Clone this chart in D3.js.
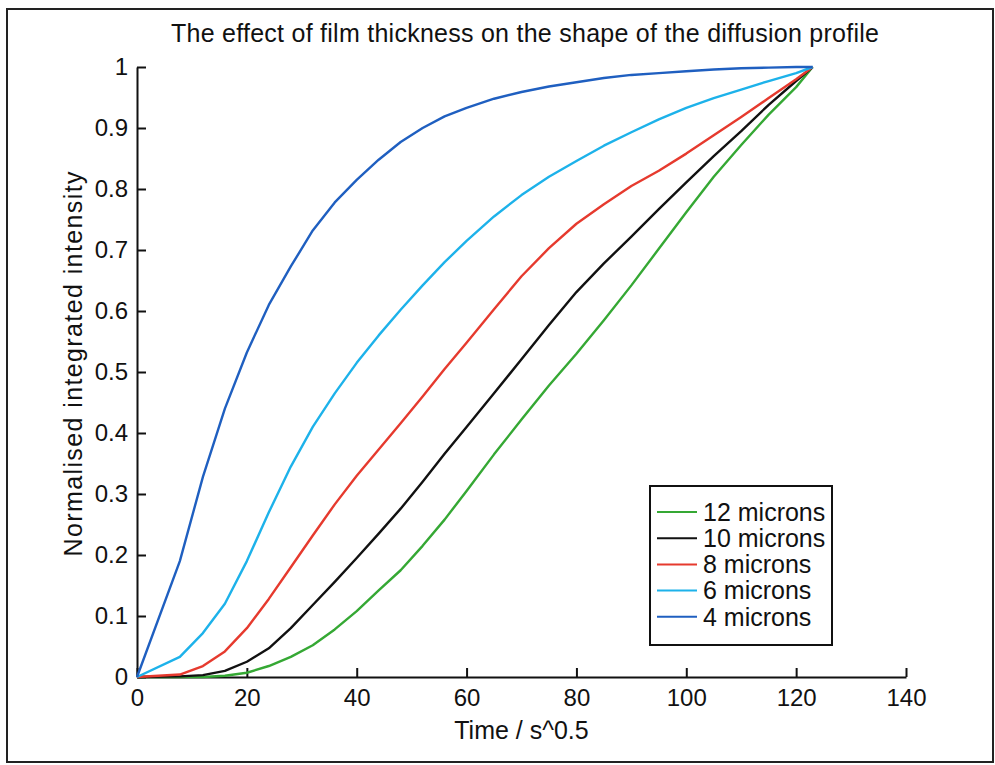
<!DOCTYPE html>
<html>
<head>
<meta charset="utf-8">
<script src="https://cdn.jsdelivr.net/npm/d3@7"></script>
<style>
    body { margin: 0; background: #fff; }
    svg { display: block; font-family: "Liberation Sans", Arial, sans-serif; }
</style>
</head>
<body>
<svg id="SVG_CONTAINER_Diffusion" width="995" height="765"></svg>
<script>
//** DATA *****************************************
const timeValues = [0, 7.8, 12, 16, 20, 24, 28, 32, 36, 40, 44, 48, 52, 56, 60, 65, 70, 75, 80, 85, 90, 95, 100, 105, 110, 115, 120, 123];

const microns12 = [0, 0, 0, 0.002, 0.007, 0.018, 0.033, 0.052, 0.078, 0.108, 0.142, 0.175, 0.215, 0.258, 0.305, 0.365, 0.422, 0.478, 0.53, 0.585, 0.642, 0.702, 0.762, 0.82, 0.872, 0.922, 0.967, 1];
const microns10 = [0, 0.001, 0.003, 0.01, 0.025, 0.047, 0.08, 0.118, 0.156, 0.195, 0.235, 0.276, 0.32, 0.366, 0.41, 0.465, 0.521, 0.577, 0.631, 0.678, 0.722, 0.767, 0.811, 0.854, 0.895, 0.938, 0.977, 1];
const microns8 = [0, 0.004, 0.018, 0.042, 0.08, 0.128, 0.18, 0.232, 0.283, 0.33, 0.373, 0.416, 0.46, 0.505, 0.548, 0.603, 0.657, 0.703, 0.743, 0.775, 0.805, 0.83, 0.858, 0.888, 0.918, 0.949, 0.98, 1];
const microns6 = [0, 0.033, 0.072, 0.12, 0.19, 0.27, 0.345, 0.41, 0.465, 0.515, 0.56, 0.602, 0.642, 0.68, 0.715, 0.755, 0.79, 0.82, 0.846, 0.871, 0.893, 0.914, 0.933, 0.949, 0.963, 0.977, 0.99, 1];
const microns4 = [0, 0.19, 0.328, 0.44, 0.532, 0.61, 0.673, 0.732, 0.778, 0.815, 0.848, 0.877, 0.9, 0.919, 0.933, 0.948, 0.959, 0.968, 0.975, 0.982, 0.987, 0.99, 0.993, 0.996, 0.998, 0.999, 1, 1];

const seriesNames = ["12 microns", "10 microns", "8 microns", "6 microns", "4 microns"];
const seriesValues = [microns12, microns10, microns8, microns6, microns4];
const seriesColours = ["#35a834", "#111111", "#e63a2e", "#1db2ea", "#1f5fc0"];

const xTicks = [0, 20, 40, 60, 80, 100, 120, 140];
const yTicks = [0, 0.1, 0.2, 0.3, 0.4, 0.5, 0.6, 0.7, 0.8, 0.9, 1];

//** SETUP *****************************************
let svg = d3.select("#SVG_CONTAINER_Diffusion");

const MARGIN = { LEFT: 137, RIGHT: 906, TOP: 67, BOTTOM: 677 };

//outer figure frame
svg.append("rect")
    .attr("x", 7)
    .attr("y", 9)
    .attr("width", 986)
    .attr("height", 753)
    .attr("fill", "none")
    .attr("stroke", "#222")
    .attr("stroke-width", 2);

let chart = svg.append("g")
    .attr("class", "diffusionPlot");

//** SCALES *****************************************
let xScale = d3.scaleLinear()
    .domain([0, 140])
    .range([MARGIN.LEFT, MARGIN.RIGHT]);

let yScale = d3.scaleLinear()
    .domain([0, 1])
    .range([MARGIN.BOTTOM, MARGIN.TOP]);

//** CREATE AXIS ****************************************
let xAxis = d3.axisBottom()
    .scale(xScale)
    .tickValues(xTicks)
    .tickFormat(d3.format("d"))
    .tickSizeInner(-9)
    .tickSizeOuter(0)
    .tickPadding(12);

let xAxisGroup = chart.append("g")
    .attr("transform", "translate(0," + MARGIN.BOTTOM + ")")
    .call(xAxis);

let yAxis = d3.axisLeft()
    .scale(yScale)
    .tickValues(yTicks)
    .tickFormat(d => d === 0 || d === 1 ? d3.format("d")(d) : d3.format(".1f")(d))
    .tickSizeInner(-9)
    .tickSizeOuter(0)
    .tickPadding(9);

let yAxisGroup = chart.append("g")
    .attr("transform", "translate(" + MARGIN.LEFT + ",0)")
    .call(yAxis);

[xAxisGroup, yAxisGroup].forEach(g => {
    g.select(".domain")
        .attr("stroke", "#111")
        .attr("stroke-width", 2);
    g.selectAll(".tick line")
        .attr("stroke", "#111")
        .attr("stroke-width", 2);
    g.selectAll(".tick text")
        .attr("fill", "#111")
        .style("font-size", "24px");
});

//title and axis labels
chart.append("text")
    .attr("x", 525)
    .attr("y", 42)
    .attr("text-anchor", "middle")
    .attr("textLength", 708)
    .style("font-size", "25px")
    .attr("fill", "#111")
    .text("The effect of film thickness on the shape of the diffusion profile");

chart.append("text")
    .attr("x", (MARGIN.LEFT + MARGIN.RIGHT) / 2)
    .attr("y", 739)
    .attr("text-anchor", "middle")
    .style("font-size", "25px")
    .attr("fill", "#111")
    .text("Time / s^0.5");

chart.append("text")
    .attr("text-anchor", "middle")
    .attr("textLength", 385)
    .attr("transform", "translate(82,364) rotate(-90)")
    .style("font-size", "25px")
    .attr("fill", "#111")
    .text("Normalised integrated intensity");

//** DATA LINES *****************************************
let line = d3.line()
    .x(d => xScale(d[0]))
    .y(d => yScale(d[1]));

for (let i = 0; i < seriesValues.length; i++) {
    let points = timeValues.map((t, j) => [t, seriesValues[i][j]]);

    chart.append("path")
        .datum(points)
        .attr("class", "line-" + i)
        .attr("fill", "none")
        .attr("stroke", seriesColours[i])
        .attr("stroke-width", 2.4)
        .attr("stroke-linejoin", "round")
        .attr("d", line);
}

//** CREATE LEGEND *****************************************
let legend = chart.append("g")
    .attr("class", "legend");

legend.append("rect")
    .attr("x", 650)
    .attr("y", 486)
    .attr("width", 182)
    .attr("height", 159)
    .attr("fill", "#fff")
    .attr("stroke", "#111")
    .attr("stroke-width", 2);

let rowStart = 512;
let rowHeight = 26.2;

seriesNames.forEach((name, i) => {
    let y = rowStart + i * rowHeight;

    legend.append("line")
        .attr("x1", 657)
        .attr("x2", 697)
        .attr("y1", y)
        .attr("y2", y)
        .attr("stroke", seriesColours[i])
        .attr("stroke-width", 2);

    legend.append("text")
        .attr("x", 703)
        .attr("y", y)
        .attr("dy", "0.35em")
        .style("font-size", "25px")
        .attr("fill", "#111")
        .text(name);
});
</script>
</body>
</html>
